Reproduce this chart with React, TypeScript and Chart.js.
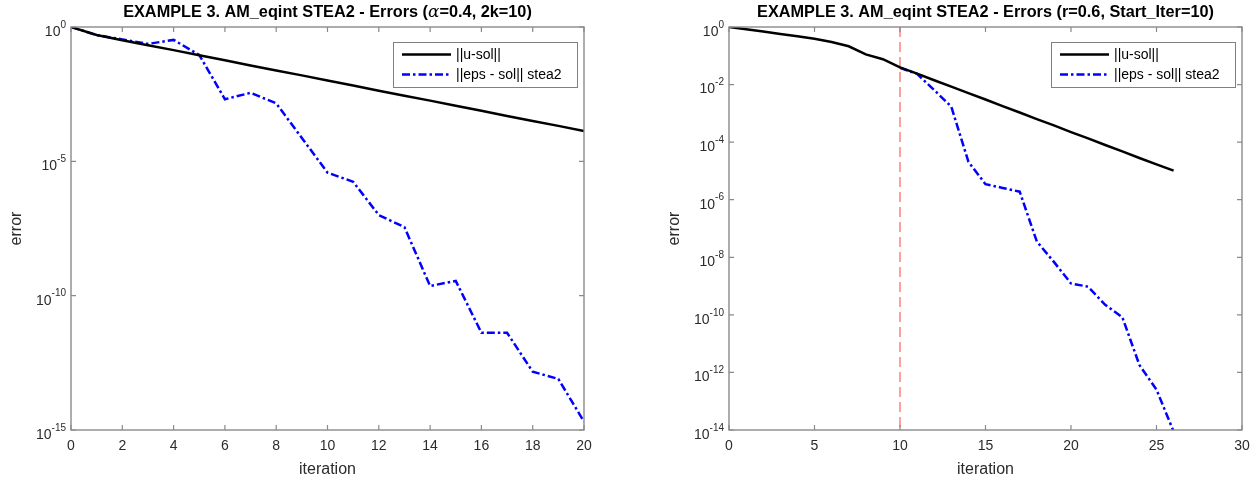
import React, { useEffect, useRef } from "react";
import { Chart, registerables } from "chart.js";

Chart.register(...registerables);

// ---------- DATA ----------
const leftIterations = [0, 1, 2, 3, 4, 5, 6, 7, 8, 9, 10, 11, 12, 13, 14, 15, 16, 17, 18, 19, 20];
// log10 of the errors
const leftUsolLog10 = [0, -0.3, -0.49, -0.68, -0.86, -1.05, -1.24, -1.43, -1.62, -1.8, -1.99, -2.18, -2.37, -2.56, -2.74, -2.93, -3.12, -3.31, -3.5, -3.68, -3.87];
const leftStea2Log10 = [0, -0.3, -0.46, -0.63, -0.48, -1.04, -2.69, -2.45, -2.84, -4.13, -5.42, -5.76, -7.0, -7.45, -9.64, -9.45, -11.38, -11.38, -12.83, -13.1, -14.69];

const rightIterations = [0, 1, 2, 3, 4, 5, 6, 7, 8, 9, 10, 11, 12, 13, 14, 15, 16, 17, 18, 19, 20, 21, 22, 23, 24, 25, 26];
const rightUsolLog10 = [0, -0.08, -0.16, -0.24, -0.32, -0.41, -0.52, -0.67, -0.95, -1.12, -1.4, -1.62, -1.85, -2.07, -2.3, -2.52, -2.75, -2.97, -3.2, -3.42, -3.65, -3.87, -4.1, -4.32, -4.55, -4.77, -4.99];
const rightStea2Log10: (number | null)[] = [null, null, null, null, null, null, null, null, null, null, -1.42, -1.63, -2.19, -2.77, -4.68, -5.46, -5.59, -5.72, -7.45, -8.16, -8.91, -9.02, -9.65, -10.08, -11.74, -12.6, -14.05];

const leftXTicks = [0, 2, 4, 6, 8, 10, 12, 14, 16, 18, 20];
const rightXTicks = [0, 5, 10, 15, 20, 25, 30];
const leftYTickExps = [0, -5, -10, -15];
const rightYTickExps = [0, -2, -4, -6, -8, -10, -12, -14];

const START_ITER = 10;

const seriesLabels = ["||u-sol||", "||eps - sol|| stea2"];
const leftTitleParts = ["EXAMPLE 3. AM_eqint STEA2 - Errors (", "\u03b1", "=0.4, 2k=10)"];
const rightTitleParts = ["EXAMPLE 3. AM_eqint STEA2 - Errors (r=0.6, Start_Iter=10)"];
const xAxisTitle = "iteration";
const yAxisTitle = "error";

// ---------- STYLE ----------
const SANS = '"Liberation Sans", Arial, Helvetica, sans-serif';
const AXIS_GRAY = "#8a8a8a";
const TEXT_DARK = "#2b2b2b";
const BLUE_DASH = [8, 3, 2.5, 3];

type PanelCfg = {
  titleParts: string[];
  xTicks: number[];
  yTickExps: number[];
  vline?: number;
};

const matlabPlugin = {
  id: "matlabAxes",
  beforeDatasetsDraw(chart: any) {
    const cfg: PanelCfg = chart.options.plugins.matlabAxes;
    if (cfg.vline === undefined) return;
    const { ctx, chartArea } = chart;
    const x = chart.scales.x.getPixelForValue(cfg.vline);
    ctx.save();
    ctx.strokeStyle = "#ff6060";
    ctx.lineWidth = 1.2;
    ctx.setLineDash([10, 5]);
    ctx.beginPath();
    ctx.moveTo(x, chartArea.top);
    ctx.lineTo(x, chartArea.bottom);
    ctx.stroke();
    ctx.restore();
  },
  afterDraw(chart: any) {
    const cfg: PanelCfg = chart.options.plugins.matlabAxes;
    const { ctx, chartArea } = chart;
    const { left, right, top, bottom } = chartArea;
    const xs = chart.scales.x;
    const ys = chart.scales.y;
    ctx.save();

    // box
    ctx.strokeStyle = AXIS_GRAY;
    ctx.lineWidth = 1.4;
    ctx.setLineDash([]);
    ctx.strokeRect(left, top, right - left, bottom - top);

    // ticks (inside, on all four sides)
    ctx.lineWidth = 1.2;
    ctx.beginPath();
    cfg.xTicks.forEach((v) => {
      const px = xs.getPixelForValue(v);
      ctx.moveTo(px, bottom);
      ctx.lineTo(px, bottom - 5);
      ctx.moveTo(px, top);
      ctx.lineTo(px, top + 5);
    });
    cfg.yTickExps.forEach((e) => {
      const py = ys.getPixelForValue(Math.pow(10, e));
      ctx.moveTo(left, py);
      ctx.lineTo(left + 5, py);
      ctx.moveTo(right, py);
      ctx.lineTo(right - 5, py);
    });
    ctx.stroke();

    // x tick labels
    ctx.fillStyle = TEXT_DARK;
    ctx.font = `14px ${SANS}`;
    ctx.textAlign = "center";
    ctx.textBaseline = "middle";
    cfg.xTicks.forEach((v) => {
      ctx.fillText(String(v), xs.getPixelForValue(v), bottom + 16);
    });

    // y tick labels 10^e
    cfg.yTickExps.forEach((e) => {
      const py = ys.getPixelForValue(Math.pow(10, e));
      const xa = left - 5;
      const expStr = e === 0 ? "0" : "-" + Math.abs(e);
      ctx.font = `10px ${SANS}`;
      ctx.textAlign = "right";
      const w = ctx.measureText(expStr).width;
      ctx.fillText(expStr, xa, py - 2);
      ctx.font = `14px ${SANS}`;
      ctx.fillText("10", xa - w, py + 5);
    });

    // axis titles
    ctx.font = `16px ${SANS}`;
    ctx.textAlign = "center";
    ctx.fillText(xAxisTitle, (left + right) / 2, bottom + 40);
    ctx.save();
    ctx.translate(left - 54.5, (top + bottom) / 2);
    ctx.rotate(-Math.PI / 2);
    ctx.fillText(yAxisTitle, 0, 0);
    ctx.restore();

    // title
    const boldF = `bold 16.3px ${SANS}`;
    const greekF = `italic 17px "DejaVu Serif", "Liberation Serif", serif`;
    const fonts = cfg.titleParts.map((p) => (p === "\u03b1" ? greekF : boldF));
    let total = 0;
    const widths = cfg.titleParts.map((p, i) => {
      ctx.font = fonts[i];
      const w = ctx.measureText(p).width;
      total += w;
      return w;
    });
    let tx = (left + right) / 2 - total / 2;
    ctx.textAlign = "left";
    ctx.fillStyle = "#000";
    cfg.titleParts.forEach((p, i) => {
      ctx.font = fonts[i];
      ctx.fillText(p, tx, 12.5);
      tx += widths[i];
    });

    // legend
    const bw = 184;
    const bh = 45;
    const bx = right - 7 - bw;
    const by = top + 15;
    ctx.fillStyle = "#fff";
    ctx.fillRect(bx, by, bw, bh);
    ctx.strokeStyle = "#808080";
    ctx.lineWidth = 1;
    ctx.strokeRect(bx + 0.5, by + 0.5, bw, bh);
    chart.data.datasets.forEach((ds: any, i: number) => {
      const ry = by + 12.5 + i * 20;
      ctx.save();
      ctx.strokeStyle = ds.borderColor;
      ctx.lineWidth = ds.borderWidth;
      ctx.setLineDash(ds.borderDash || []);
      ctx.beginPath();
      ctx.moveTo(bx + 9, ry);
      ctx.lineTo(bx + 58, ry);
      ctx.stroke();
      ctx.restore();
      ctx.fillStyle = "#000";
      ctx.font = `14px ${SANS}`;
      ctx.textAlign = "left";
      ctx.textBaseline = "middle";
      ctx.fillText(ds.label, bx + 63, ry + 1);
    });

    ctx.restore();
  },
};

function makeConfig(
  iters: number[],
  usol: number[],
  stea: (number | null)[],
  xMax: number,
  yMinExp: number,
  padding: { left: number; right: number; top: number; bottom: number },
  panel: PanelCfg
): any {
  return {
    type: "line",
    data: {
      datasets: [
        {
          label: seriesLabels[0],
          data: iters.map((x, i) => ({ x, y: Math.pow(10, usol[i]) })),
          borderColor: "#000000",
          borderWidth: 2.5,
          pointRadius: 0,
          tension: 0,
          fill: false,
        },
        {
          label: seriesLabels[1],
          data: iters.map((x, i) => ({ x, y: stea[i] === null ? null : Math.pow(10, stea[i] as number) })),
          borderColor: "#0000ff",
          borderWidth: 2.5,
          borderDash: BLUE_DASH,
          pointRadius: 0,
          tension: 0,
          fill: false,
          spanGaps: false,
        },
      ],
    },
    options: {
      responsive: false,
      animation: false,
      devicePixelRatio: 1,
      layout: { padding },
      scales: {
        x: { type: "linear", min: 0, max: xMax, display: false },
        y: { type: "logarithmic", min: Math.pow(10, yMinExp), max: 1, display: false },
      },
      plugins: {
        legend: { display: false },
        tooltip: { enabled: false },
        title: { display: false },
        matlabAxes: panel,
      },
    },
    plugins: [matlabPlugin],
  };
}

export default function App() {
  const leftRef = useRef<HTMLCanvasElement>(null);
  const rightRef = useRef<HTMLCanvasElement>(null);

  useEffect(() => {
    const c1 = new Chart(
      leftRef.current as HTMLCanvasElement,
      makeConfig(leftIterations, leftUsolLog10, leftStea2Log10, 20, -15,
        { left: 71, right: 46, top: 27, bottom: 55 },
        { titleParts: leftTitleParts, xTicks: leftXTicks, yTickExps: leftYTickExps })
    );
    const c2 = new Chart(
      rightRef.current as HTMLCanvasElement,
      makeConfig(rightIterations, rightUsolLog10, rightStea2Log10, 30, -14,
        { left: 99, right: 18, top: 27, bottom: 55 },
        { titleParts: rightTitleParts, xTicks: rightXTicks, yTickExps: rightYTickExps, vline: START_ITER })
    );
    return () => {
      c1.destroy();
      c2.destroy();
    };
  }, []);

  return (
    <div style={{ position: "fixed", left: 0, top: 0, width: 1260, height: 485, background: "#fff" }}>
      <canvas ref={leftRef} width={630} height={485} style={{ position: "absolute", left: 0, top: 0, width: 630, height: 485 }} />
      <canvas ref={rightRef} width={630} height={485} style={{ position: "absolute", left: 630, top: 0, width: 630, height: 485 }} />
    </div>
  );
}
